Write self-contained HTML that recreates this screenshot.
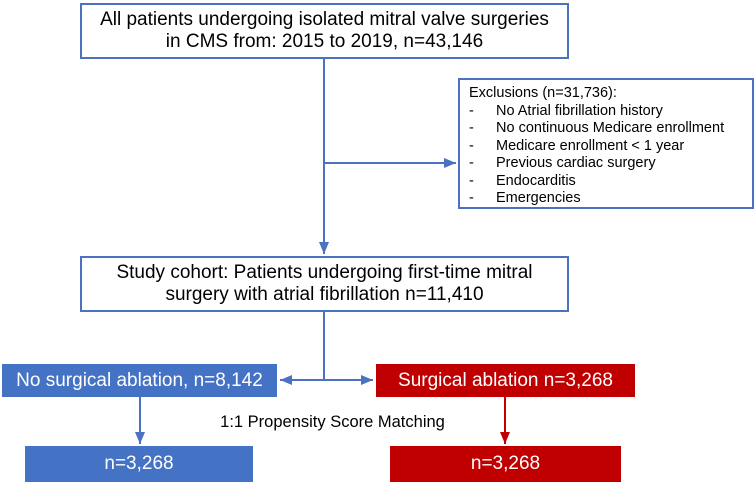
<!DOCTYPE html>
<html><head><meta charset="utf-8"><style>
html,body{margin:0;padding:0;background:#fff;}
body{width:755px;height:482px;position:relative;overflow:hidden;font-family:"Liberation Sans",Arial,sans-serif;}
.box{position:absolute;box-sizing:border-box;display:flex;align-items:center;justify-content:center;text-align:center;}
.wb{border:2px solid #4a72c0;background:#fff;color:#000;font-size:19px;line-height:22px;}
.blue{background:#4472c4;color:#fff;font-size:19px;}
.red{background:#c00000;color:#fff;font-size:19px;}
#excl{position:absolute;left:458px;top:78px;width:296px;height:131px;box-sizing:border-box;border:2px solid #4a72c0;font-size:14.5px;line-height:17.5px;padding:5px 0 0 9px;}
#excl .it{position:relative;padding-left:27px;}
#excl .it:before{content:"-";position:absolute;left:0;}
svg{position:absolute;left:0;top:0;}
</style></head><body>
<svg width="755" height="482">
<defs><marker id="ab" markerWidth="8" markerHeight="8" refX="6" refY="4" orient="auto"><path d="M0,1.5 L6,4 L0,6.5 z" fill="#4a72c0"/></marker>
<marker id="ar" markerWidth="8" markerHeight="8" refX="6" refY="4" orient="auto"><path d="M0,1.5 L6,4 L0,6.5 z" fill="#c00000"/></marker></defs>
<g stroke="#4a72c0" stroke-width="2" fill="none">
<line x1="324" y1="59" x2="324" y2="254" marker-end="url(#ab)"/>
<line x1="324" y1="163" x2="456" y2="163" marker-end="url(#ab)"/>
<line x1="324" y1="312" x2="324" y2="380"/>
<line x1="324" y1="380" x2="280" y2="380" marker-end="url(#ab)"/>
<line x1="324" y1="380" x2="373" y2="380" marker-end="url(#ab)"/>
<line x1="140" y1="397" x2="140" y2="444" marker-end="url(#ab)"/>
</g>
<line x1="505" y1="397" x2="505" y2="444" stroke="#c00000" stroke-width="2" marker-end="url(#ar)"/>
</svg>
<div class="box wb" style="left:80px;top:3px;width:489px;height:56px;">All patients undergoing isolated mitral valve surgeries<br>in CMS from: 2015 to 2019, n=43,146</div>
<div id="excl">
<div>Exclusions (n=31,736):</div>
<div class="it">No Atrial fibrillation history</div>
<div class="it">No continuous Medicare enrollment</div>
<div class="it">Medicare enrollment &lt; 1 year</div>
<div class="it">Previous cardiac surgery</div>
<div class="it">Endocarditis</div>
<div class="it">Emergencies</div>
</div>
<div class="box wb" style="left:80px;top:256px;width:489px;height:56px;">Study cohort: Patients undergoing first-time mitral<br>surgery with atrial fibrillation n=11,410</div>
<div class="box blue" style="left:2px;top:364px;width:275px;height:33px;">No surgical ablation, n=8,142</div>
<div class="box red" style="left:376px;top:364px;width:259px;height:33px;">Surgical ablation n=3,268</div>
<div style="position:absolute;left:208px;top:413px;width:249px;font-size:16.5px;text-align:center;">1:1 Propensity Score Matching</div>
<div class="box blue" style="left:25px;top:446px;width:228px;height:36px;">n=3,268</div>
<div class="box red" style="left:390px;top:446px;width:231px;height:36px;">n=3,268</div>
</body></html>
